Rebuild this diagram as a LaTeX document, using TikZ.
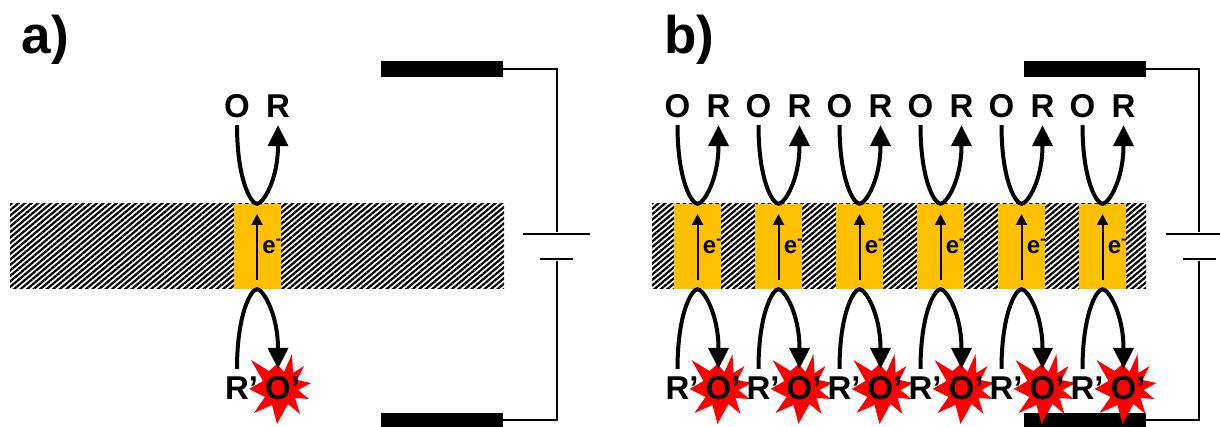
\documentclass[tikz,border=0pt]{standalone}
\usepackage{fontspec}
\setmainfont{Liberation Sans}
\usetikzlibrary{positioning,arrows.meta,patterns.meta}
\definecolor{gateyellow}{HTML}{FFC000}

\tikzset{
  lbl/.style={font=\fontsize{33}{33}\selectfont\bfseries,inner sep=0pt,minimum height=38pt},
  panel/.style={font=\fontsize{53}{53}\selectfont\bfseries,inner sep=0pt},
  elbl/.style={font=\fontsize{24}{24}\selectfont\bfseries,inner sep=0pt},
  bar/.style={minimum width=494pt,minimum height=85pt,inner sep=0pt,pattern={Lines[angle=40,distance=4.2pt,line width=2.2pt]}},
  gate/.style={fill=gateyellow,minimum width=47pt,minimum height=85pt,inner sep=0pt},
  flow/.style={line width=4pt,-{Triangle[length=21pt,width=20pt]}},
  electron/.style={line width=2pt,-{Triangle[length=11pt,width=11pt]}},
  plate/.style={fill=black,inner sep=0pt,minimum height=2.8pt},
  elec/.style={fill=black,inner sep=0pt,minimum width=122pt},
  wire/.style={line width=2pt},
  burst/.pic={\fill[red] plot coordinates {(-29,-28) (-11,-17) (-3,-24) (4,-16) (12,-34) (13,-15) (24,-22) (17,-8) (31,-5) (18,2) (29,11) (15,10) (20,26) (8,16) (-3,36) (-8,17) (-26,25) (-15,9) (-31,1) (-17,-7)} -- cycle;}
}

\begin{document}
\begin{tikzpicture}[x=1pt,y=-1pt,on grid]
   \clip (0,0) rectangle (1220,427);

   \node[panel] (lab_a) at (45.5,40) {a)};
   \node[panel] (lab_b) at (689.5,40) {b)};
   \node[bar] (bar_a) at (257,246.5) {};
   \node[bar] (bar_b) at (899,246.5) {};

   % electrodes and battery
   \foreach \p/\x in {a/0,b/642.5}{
     \node[elec,minimum height=16pt] (top_\p) at (442+\x,69) {};
     \node[elec,minimum height=14pt] (bot_\p) at (442+\x,420) {};
     \node[plate,minimum width=67pt] (long_\p) at (556.5+\x,234) {};
     \node[plate,minimum width=33pt] (short_\p) at (556.5+\x,259) {};
     \draw[wire] (top_\p.east) -| (long_\p.north);
     \draw[wire] (bot_\p.east) -| (short_\p.south);
   }

   % one cell per gate
   \foreach \n/\x in {a/257,1/697.5,2/778.5,3/859.5,4/940.5,5/1021.5,6/1102.5}{
     \node[gate] (g_\n) at (\x,246.5) {};
     \node[lbl] (o_\n) [above left=140.5pt and 20pt of g_\n] {O};
     \node[lbl] (r_\n) [above right=140.5pt and 21pt of g_\n] {R};
     \coordinate[below right=141.5pt and 23pt of g_\n] (c_\n);
     \pic at (c_\n) {burst};
     \node[lbl] (rp_\n) [below left=141.5pt and 20pt of g_\n] {R\rlap{’}};
     \node[lbl] (op_\n) [below right=141.5pt and 21pt of g_\n] {O\rlap{’}};
     \coordinate (e0_\n) at (\x,280);
     \coordinate (e1_\n) at (\x,214);
     \draw[electron] (e0_\n) -- (e1_\n);
     \node[elbl] (e_\n) [right=15pt of g_\n] {e\textsuperscript{-}};
     \draw[flow] (o_\n.south) to[out=-90,in=180,out distance=55pt,in distance=6pt] (g_\n.north)
       to[out=0,in=-90,out distance=6pt,in distance=55pt] (r_\n.south);
     \draw[flow] (rp_\n.north) to[out=90,in=180,out distance=55pt,in distance=6pt] (g_\n.south)
       to[out=0,in=90,out distance=6pt,in distance=55pt] (op_\n.north);
   }
\end{tikzpicture}
\end{document}
